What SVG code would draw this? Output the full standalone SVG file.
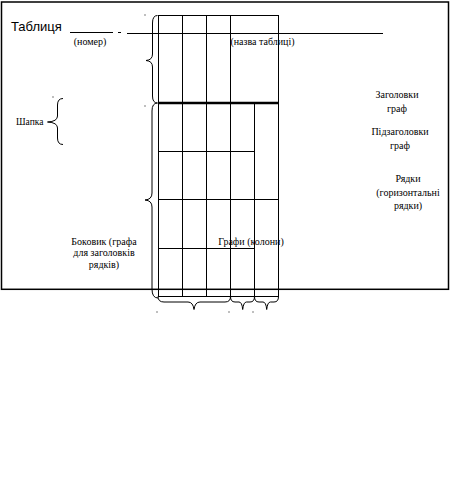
<svg xmlns="http://www.w3.org/2000/svg" width="450" height="490" viewBox="0 0 450 490">
<style>
.ln{stroke:#000;stroke-width:1;fill:none}
.br{stroke:#000;stroke-width:1;fill:none}
text{font-family:'Liberation Serif','Times New Roman',serif;font-size:10px;fill:#000}
.tc{text-anchor:middle}
.dot{fill:#000}
</style>
<rect width="450" height="490" fill="#fff"/>
<g id="frame">
<rect x="1.5" y="2" width="447" height="287.3" fill="none" stroke="#000" stroke-width="1.5"/>
</g>
<g id="title">
<text x="11" y="31" style="font-family:'Liberation Sans',Arial,sans-serif;font-size:13px">Таблиця</text>
<line class="ln" x1="70" y1="32.5" x2="113" y2="32.5"/>
<line class="ln" x1="118" y1="32.5" x2="121" y2="32.5"/>
<line class="ln" x1="127" y1="33.5" x2="383" y2="33.5"/>
<text class="tc" x="90" y="44.5">(номер)</text>
<text class="tc" x="262.5" y="44.5">(назва таблиці)</text>
</g>
<g id="table">
<line class="ln" x1="158" y1="15.5" x2="278" y2="15.5"/>
<line class="ln" x1="158.5" y1="15" x2="158.5" y2="296"/>
<line class="ln" x1="182.5" y1="15" x2="182.5" y2="296"/>
<line class="ln" x1="206.5" y1="15" x2="206.5" y2="296"/>
<line class="ln" x1="230.5" y1="15" x2="230.5" y2="296"/>
<line class="ln" x1="254.5" y1="103" x2="254.5" y2="296"/>
<line class="ln" x1="278.5" y1="15" x2="278.5" y2="296"/>
<line x1="158" y1="103" x2="279" y2="103" stroke="#000" stroke-width="2.5"/>
<line class="ln" x1="158" y1="151.5" x2="255" y2="151.5"/>
<line class="ln" x1="158" y1="199.5" x2="279" y2="199.5"/>
<line class="ln" x1="158" y1="248.5" x2="255" y2="248.5"/>
<line class="ln" x1="158" y1="296.5" x2="279" y2="296.5"/>
</g>
<g id="connectors">
<path class="br" d="M157.5,15.5 Q152.5,15.5 152.5,23 L152.5,54 Q152.5,60 146,60.5 Q152.5,61 152.5,67 L152.5,96 Q152.5,103 157.5,103"/>
<path class="br" d="M157.5,103 Q152,103 152,111 L152,193 Q152,199.5 145,200 Q152,200.5 152,207 L152,289 Q152,298 158,298"/>
<path class="br" d="M63,98.5 Q57.5,98.5 57.5,105 L57.5,116 Q57.5,121.5 47.5,122 Q57.5,122.5 57.5,128 L57.5,138 Q57.5,144.5 63,144.5"/>
<path class="br" d="M158,296.5 Q158,302 164,302 L188,302 Q193,302 194,309.5 Q195,302 200,302 L225,302 Q230.5,302 230.5,296.5"/>
<path class="br" d="M230.5,296.5 Q230.5,302 235,302 L239,302 Q242,302 242.7,309.5 Q243.5,302 246.5,302 L250,302 Q254.5,302 254.5,296.5"/>
<path class="br" d="M254.5,296.5 Q254.5,302 259,302 L263,302 Q266,302 266.7,309.5 Q267.5,302 270.5,302 L274,302 Q278.5,302 278.5,296.5"/>
<rect class="dot" x="144.5" y="14.5" width="1" height="1"/>
<rect class="dot" x="144.5" y="105.5" width="1" height="1"/>
<rect class="dot" x="52.5" y="96.5" width="1" height="1"/>
<rect class="dot" x="156.5" y="311.5" width="1" height="1"/>
<rect class="dot" x="228.5" y="311.5" width="1" height="1"/>
<rect class="dot" x="252.5" y="311.5" width="1" height="1"/>
</g>
<g id="shapka"><text x="16" y="125" style="font-size:9.5px">Шапка</text></g>
<g id="zagolovky"><text class="tc" x="397" y="98">Заголовки</text><text class="tc" x="397" y="112">граф</text></g>
<g id="pidzagolovky"><text class="tc" x="400" y="135">Підзаголовки</text><text class="tc" x="400" y="148.5">граф</text></g>
<g id="riadky"><text class="tc" x="408" y="182">Рядки</text><text class="tc" x="408" y="195.5">(горизонтальні</text><text class="tc" x="408" y="209">рядки)</text></g>
<g id="bokovyk"><text class="tc" x="104" y="245">Боковик (графа</text><text class="tc" x="104" y="256">для заголовків</text><text class="tc" x="104" y="268">рядків)</text></g>
<g id="grafy"><text class="tc" x="251" y="245">Графи (колони)</text></g>
</svg>
